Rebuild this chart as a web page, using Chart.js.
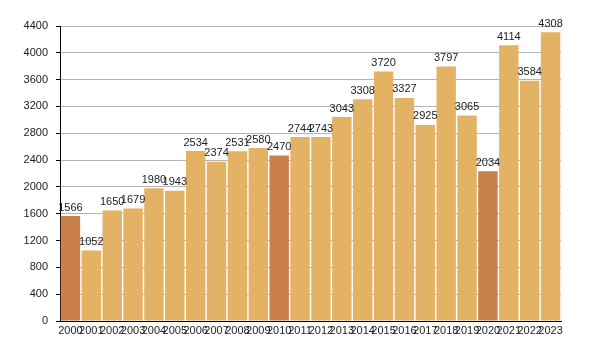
<!DOCTYPE html>
<html lang="es">
<head>
  <meta charset="UTF-8">
  <title>Gráfica</title>
  <script src="https://cdn.jsdelivr.net/npm/chart.js"></script>
  <style>
    body, html {
      margin: 0;
      padding: 0;
      background: #fff;
    }
    #wrap {
      width: 590px;
      height: 350px;
    }
  </style>
</head>
<body>
  <div id="wrap"><canvas id="grafico"></canvas></div>
  <script>
    const anios = ["2000","2001","2002","2003","2004","2005","2006","2007","2008","2009","2010","2011",
                   "2012","2013","2014","2015","2016","2017","2018","2019","2020","2021","2022","2023"];
    // altura de cada barra
    const valores = [1566, 1052, 1650, 1679, 1980, 1943, 2534, 2374, 2531, 2580, 2470, 2744,
                     2743, 3043, 3308, 3720, 3327, 2925, 3797, 3065, 2234, 4114, 3584, 4308];
    // texto sobre cada barra (tal cual aparece)
    const etiquetas = ["1566","1052","1650","1679","1980","1943","2534","2374","2531","2580","2470","2744",
                       "2743","3043","3308","3720","3327","2925","3797","3065","2034","4114","3584","4308"];
    const destacados = ["2000", "2010", "2020"];

    const claro = "#e4b265";
    const oscuro = "#c98049";
    const fuente = "'Liberation Sans', Arial, sans-serif";

    const etiquetasPlugin = {
      id: "etiquetas",
      afterDatasetsDraw(chart) {
        const c = chart.ctx;
        const meta = chart.getDatasetMeta(0);
        c.save();
        c.font = "11px " + fuente;
        c.fillStyle = "#222";
        c.textAlign = "center";
        c.textBaseline = "bottom";
        meta.data.forEach((bar, i) => {
          c.fillText(etiquetas[i], bar.x, bar.y - 3);
        });
        c.restore();
      }
    };

    const ctx = document.getElementById("grafico").getContext("2d");
    new Chart(ctx, {
      type: "bar",
      data: {
        labels: anios,
        datasets: [{
          data: valores,
          backgroundColor: anios.map(a => destacados.includes(a) ? oscuro : claro),
          barPercentage: 0.93,
          categoryPercentage: 1
        }]
      },
      options: {
        responsive: true,
        maintainAspectRatio: false,
        animation: false,
        layout: { padding: { top: 26, right: 29, left: 0, bottom: 0 } },
        plugins: {
          legend: { display: false },
          tooltip: { enabled: false }
        },
        scales: {
          x: {
            grid: { display: false, drawTicks: false },
            border: { color: "#000", width: 1 },
            ticks: {
              autoSkip: false,
              maxRotation: 0,
              minRotation: 0,
              padding: 3,
              color: "#222",
              font: { size: 11, family: fuente }
            },
            afterFit(scale) { scale.height = 29; }
          },
          y: {
            min: 0,
            max: 4400,
            border: { color: "#000", width: 1 },
            grid: {
              color: c => (c.tick && c.tick.value % 400 === 0) ? "#b4b4b4" : "#e2e2e2",
              tickColor: "#000",
              tickLength: 4
            },
            ticks: {
              stepSize: 200,
              padding: 8,
              color: "#222",
              font: { size: 11, family: fuente },
              callback: v => v % 400 === 0 ? v : ""
            },
            afterFit(scale) { scale.width = 60; }
          }
        }
      },
      plugins: [etiquetasPlugin]
    });
  </script>
</body>
</html>
